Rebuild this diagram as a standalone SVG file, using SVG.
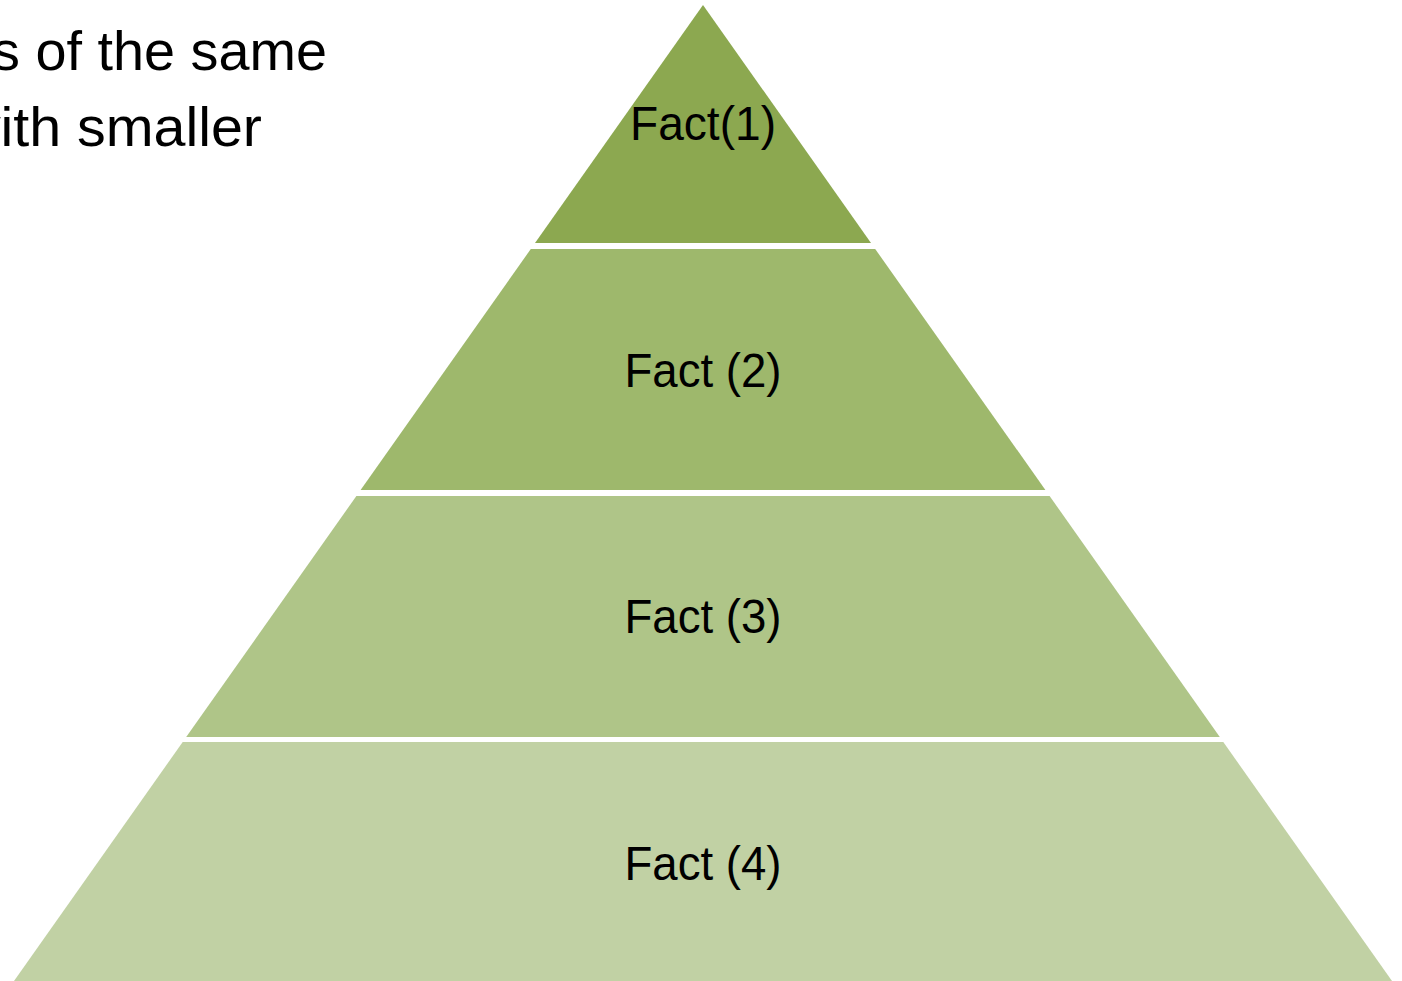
<svg xmlns="http://www.w3.org/2000/svg" width="1402" height="981" viewBox="0 0 1402 981">
<style>
.lbl{font-family:"Liberation Sans",Arial,sans-serif;font-size:48px;fill:#000;text-anchor:middle}
.bg{font-family:"Liberation Sans",Arial,sans-serif;font-size:56px;fill:#000}
</style>
<rect x="0" y="0" width="1402" height="981" fill="#fff"/>
<text class="bg" x="-8" y="70" textLength="335" lengthAdjust="spacingAndGlyphs">s of the same</text>
<text class="bg" x="-41" y="146" textLength="303" lengthAdjust="spacingAndGlyphs">with smaller</text>
<g id="tier1">
<polygon points="703,5 871,243 535,243" fill="#8CA850"/>
<text class="lbl" x="703" y="140" textLength="146" lengthAdjust="spacingAndGlyphs">Fact(1)</text>
</g>
<g id="tier2">
<polygon points="530.8,249 875.2,249 1045.4,490 360.6,490" fill="#9EB86C"/>
<text class="lbl" x="703" y="387" textLength="157" lengthAdjust="spacingAndGlyphs">Fact (2)</text>
</g>
<g id="tier3">
<polygon points="356.4,496 1049.6,496 1219.8,737 186.2,737" fill="#AFC588"/>
<text class="lbl" x="703" y="633" textLength="157" lengthAdjust="spacingAndGlyphs">Fact (3)</text>
</g>
<g id="tier4">
<polygon points="182.7,742 1223.3,742 1392,981 14,981" fill="#C1D1A4"/>
<text class="lbl" x="703" y="880" textLength="157" lengthAdjust="spacingAndGlyphs">Fact (4)</text>
</g>
<g id="connectors"/>
</svg>
